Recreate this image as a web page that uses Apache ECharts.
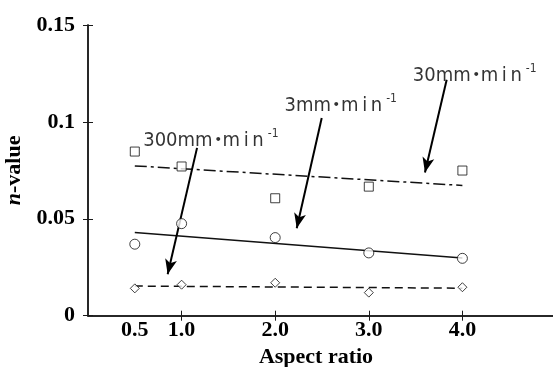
<!DOCTYPE html>
<html><head><meta charset="utf-8">
<script src="https://cdn.jsdelivr.net/npm/echarts@6/dist/echarts.min.js"></script>
<style>html,body{margin:0;padding:0;background:#fff}#c{width:553px;height:367px}</style>
</head><body><div id="c"></div>
<script>
// ---- data ----
var aspectRatios = [0.5, 1.0, 2.0, 3.0, 4.0];
var xTickLabels = [0.5, 1.0, 2.0, 3.0, 4.0];
var xTickMarks = [1, 2, 3, 4];
var squares30 = [0.0847, 0.0770, 0.0606, 0.0666, 0.0749];
var circles3 = [0.0369, 0.0475, 0.0403, 0.0324, 0.0296];
var diamonds300 = [0.0141, 0.0160, 0.0170, 0.0119, 0.0147];
var fitX = [0.5, 4.0];
var fit30 = [0.0773, 0.0672];
var fit3 = [0.0429, 0.0298];
var fit300 = [0.0153, 0.0142];
var annoRates = ['300', '3', '30'];
var annoText = [[0.59, 0.0920], [2.10, 0.1100], [3.47, 0.1255]];
var arrowFrom = [[1.165, 0.0866], [2.497, 0.1020], [3.832, 0.1217]];
var arrowTo = [[0.851, 0.0214], [2.230, 0.0451], [3.600, 0.0739]];

function pairs(xs, ys){ return xs.map(function(x,i){ return [x, ys[i]]; }); }

var AX = '#1a1a1a';
var serif = '"Liberation Serif","Times New Roman",serif';
var narrow = '"DejaVu Sans Condensed","Liberation Sans Narrow","Liberation Sans",sans-serif';

var chart = echarts.init(document.getElementById('c'), null, {renderer:'canvas'});
var markerStyle = {color:'#fff', borderColor:'#111', borderWidth:1};

chart.setOption({
  animation:false,
  backgroundColor:'#fff',
  grid:{left:88, top:25, width:468, height:290.7, containLabel:false, outerBoundsMode:'none'},
  xAxis:[{
    type:'value', min:0, max:5, position:'bottom',
    axisLine:{show:true, lineStyle:{color:AX, width:1.5}},
    axisTick:{show:true, inside:true, length:5, customValues:xTickMarks, lineStyle:{color:AX}},
    axisLabel:{customValues:xTickLabels, formatter:function(v){return v.toFixed(1);},
      fontFamily:serif, fontWeight:'bold', fontSize:22, color:'#000', margin:4},
    splitLine:{show:false},
    name:'Aspect ratio', nameLocation:'middle', nameGap:28,
    nameTextStyle:{fontFamily:serif, fontWeight:'bold', fontSize:22, color:'#000', padding:[0,12,0,0]}
  },{
    type:'value', min:0, max:5, position:'top',
    axisLine:{show:true, lineStyle:{color:AX, width:1.5}},
    axisTick:{show:true, inside:true, length:5, customValues:xTickMarks, lineStyle:{color:AX}},
    axisLabel:{show:false}, splitLine:{show:false}
  }],
  yAxis:[{
    type:'value', min:0, max:0.15, interval:0.05, position:'left',
    axisLine:{show:true, lineStyle:{color:AX, width:1.5}},
    axisTick:{show:true, inside:true, length:5, lineStyle:{color:AX}},
    axisLabel:{fontFamily:serif, fontWeight:'bold', fontSize:22, color:'#000', margin:13,
      padding:[0,0,6,0]},
    splitLine:{show:false},
    name:'{i|n}{b|-value}', nameLocation:'middle', nameGap:56,
    nameTextStyle:{rich:{
      i:{fontFamily:serif, fontWeight:'bold', fontStyle:'italic', fontSize:22, color:'#000'},
      b:{fontFamily:serif, fontWeight:'bold', fontSize:22, color:'#000'}}}
  },{
    type:'value', min:0, max:0.15, interval:0.05, position:'right',
    axisLine:{show:true, lineStyle:{color:AX, width:1.5}},
    axisTick:{show:true, inside:true, length:5, lineStyle:{color:AX}},
    axisLabel:{show:false}, splitLine:{show:false}
  }],
  series:[
    {type:'line', data:pairs(fitX, fit30), symbol:'none', lineStyle:{color:'#111', width:1.5, type:[12,4,3,4]}},
    {type:'line', data:pairs(fitX, fit3), symbol:'none', lineStyle:{color:'#111', width:1.5, type:'solid'}},
    {type:'line', data:pairs(fitX, fit300), symbol:'none', lineStyle:{color:'#111', width:1.5, type:[8,5]}},
    {type:'scatter', data:pairs(aspectRatios, squares30), symbol:'rect', symbolSize:9, itemStyle:markerStyle, z:5},
    {type:'scatter', data:pairs(aspectRatios, circles3), symbol:'circle', symbolSize:10, itemStyle:markerStyle, z:5},
    {type:'scatter', data:pairs(aspectRatios, diamonds300), symbol:'diamond', symbolSize:[9,9], itemStyle:markerStyle, z:5},
    {type:'scatter', symbolSize:0, silent:true, z:6,
      data:annoText.map(function(p,i){ return {value:p, rate:annoRates[i]}; }),
      label:{show:true, position:'right', distance:0, offset:[0,3],
        formatter:function(p){ return '{a|' + annoRates[p.dataIndex] + 'mm}{d|・}{a|m\u2009i\u2009n}{s|-1}'; },
        rich:{
          a:{fontFamily:narrow, fontSize:20, color:'#000', lineHeight:24},
          d:{fontFamily:narrow, fontSize:20, fontWeight:'bold', color:'#000', lineHeight:24, width:10, align:'center'},
          s:{fontFamily:narrow, fontSize:12, color:'#000', verticalAlign:'top', padding:[0,0,14,4]}
        }},
      markLine:{silent:true, symbol:['none','arrow'], symbolSize:[9,15],
        lineStyle:{color:'#000', width:2, type:'solid'}, label:{show:false},
        data:arrowFrom.map(function(a,i){ return [{coord:a},{coord:arrowTo[i]}]; })}
    }
  ]
});
</script></body></html>
